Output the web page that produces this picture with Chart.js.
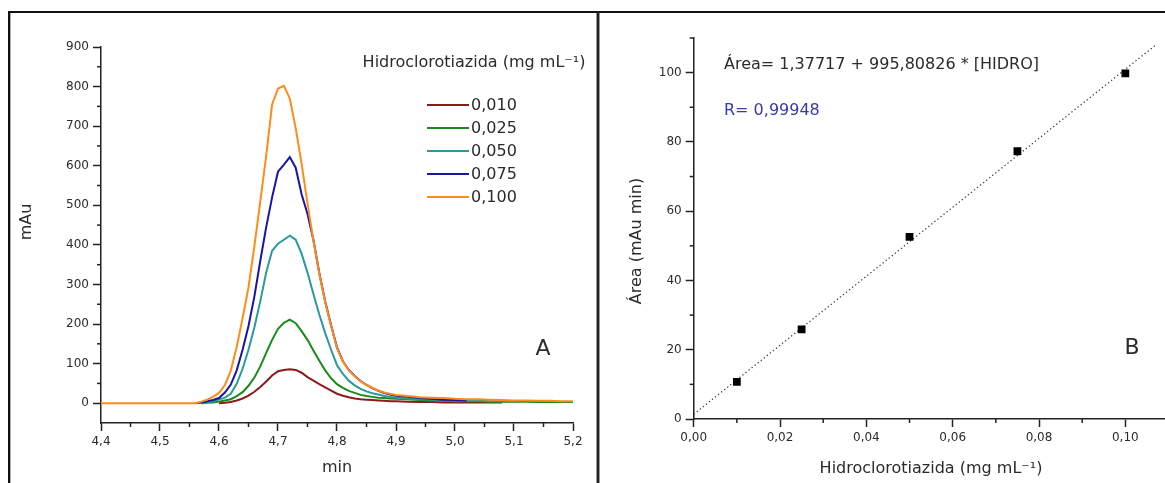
<!DOCTYPE html>
<html lang="pt-br">
<head>
<meta charset="UTF-8">
<title>Hidroclorotiazida - cromatograma e curva</title>
<script src="https://cdn.jsdelivr.net/npm/chart.js"></script>
<style>
    body { margin: 0; background: #fff; width: 1165px; height: 483px; overflow: hidden; position: relative; }
    canvas { position: absolute; top: 0; }
    #grafico_a { left: 0; }
    #grafico_b { left: 600px; }
    .linha { position: absolute; }
</style>
</head>
<body>

<canvas id="grafico_a" width="597" height="483"></canvas>
<canvas id="grafico_b" width="600" height="483"></canvas>

<!-- moldura -->
<div class="linha" style="left:8px;top:11px;width:1157px;height:2px;background:#111"></div>
<div class="linha" style="left:8px;top:11px;width:2px;height:472px;background:#111"></div>
<div class="linha" style="left:10px;top:13px;width:1px;height:470px;background:#aaa"></div>
<div class="linha" style="left:596px;top:13px;width:1px;height:470px;background:#999"></div>
<div class="linha" style="left:597px;top:11px;width:2px;height:472px;background:#222"></div>
<div class="linha" style="left:599px;top:13px;width:1px;height:470px;background:#999"></div>

<script>
    // ---- A: cromatogramas ----
    var tempos = [4.40, 4.56, 4.57, 4.58, 4.59, 4.60, 4.61, 4.62, 4.63, 4.64, 4.65, 4.66, 4.67, 4.68, 4.69,
        4.70, 4.71, 4.72, 4.73, 4.74, 4.75, 4.76, 4.77, 4.78, 4.79, 4.80, 4.81, 4.82, 4.83, 4.84, 4.85,
        4.86, 4.87, 4.88, 4.89, 4.90, 4.92, 4.94, 4.96, 4.98, 5.00, 5.02, 5.04, 5.06, 5.08, 5.10, 5.12,
        5.14, 5.16, 5.18, 5.20];

    var serie010 = [null, null, null, null, null, 0, 1, 3, 7, 12, 19, 29, 41, 55, 70,
        81, 84, 86, 84, 77, 66, 57, 48, 40, 32, 24, 19, 15, 12, 10, 9,
        8, 7, 6, 5, 5, 4, 3, 3, 2, 2, 2, 2, 2, 2, null, null,
        null, null, null, null];
    var serie025 = [null, null, 0, 1, 2, 4, 7, 10, 18, 28, 44, 65, 93, 127, 160,
        188, 203, 211, 202, 182, 160, 133, 107, 83, 63, 48, 39, 31, 26, 21, 18,
        16, 14, 13, 12, 11, 10, 8, 7, 6, 5, 5, 5, 4, 4, 4, 4,
        3, 3, 3, 3];
    var serie050 = [null, null, 0, 2, 5, 9, 14, 24, 49, 87, 135, 192, 258, 330, 385,
        403, 413, 423, 413, 378, 330, 276, 224, 177, 135, 96, 74, 57, 45, 36, 30,
        25, 22, 18, 16, 14, 12, 10, 9, 8, 7, 6, 6, 5, 5, 5, null,
        null, null, null, null];
    var serie075 = [null, 0, 2, 5, 8, 13, 27, 47, 83, 135, 195, 270, 360, 445, 520,
        585, 603, 622, 595, 528, 478, 413, 329, 257, 197, 141, 106, 84, 69, 56, 46,
        38, 31, 26, 22, 19, 16, 13, 11, 9, 8, 7, null, null, null, null, null,
        null, null, null, null];
    var serie100 = [0, 0, 4, 9, 16, 26, 46, 82, 142, 215, 293, 397, 510, 625, 755,
        795, 802, 770, 695, 605, 505, 411, 327, 255, 195, 139, 105, 83, 68, 55, 46,
        39, 32, 27, 24, 21, 18, 15, 14, 13, 11, 10, 10, 9, 8, 7, 7,
        6, 6, 5, 5];

    var rotulos = ["0,010", "0,025", "0,050", "0,075", "0,100"];
    var cores = ["#8b1a1a", "#1a8a1a", "#2a9a9a", "#1616a4", "#ff8c1a"];

    var ticksXA = [4.4, 4.5, 4.6, 4.7, 4.8, 4.9, 5.0, 5.1, 5.2];
    var ticksYA = [0, 100, 200, 300, 400, 500, 600, 700, 800, 900];
    var menoresXA = [4.45, 4.55, 4.65, 4.75, 4.85, 4.95, 5.05, 5.15];
    var menoresYA = [50, 150, 250, 350, 450, 550, 650, 750, 850];

    // ---- B: curva analítica ----
    var concentracoes = [0.010, 0.025, 0.050, 0.075, 0.100];
    var areas = [10.7, 25.9, 52.6, 77.3, 99.8];
    var ajusteX = [0, 0.107];
    var ajusteY = [1.38, 107.93];

    var ticksXB = [0, 0.02, 0.04, 0.06, 0.08, 0.10];
    var ticksYB = [0, 20, 40, 60, 80, 100];
    var menoresXB = [0.01, 0.03, 0.05, 0.07, 0.09, 0.11];
    var menoresYB = [10, 30, 50, 70, 90, 110];

    Chart.defaults.font.family = "'DejaVu Sans', sans-serif";
    Chart.defaults.color = "#2b2b2b";

    var corEixo = "#222";
    var corTexto = "#2b2b2b";

    function pares(xs, ys) {
        return xs.map(function (x, i) { return { x: x, y: ys[i] }; });
    }

    function virgula(casas) {
        return function (v) { return casas ? v.toFixed(casas).replace(".", ",") : String(v); };
    }

    function eixo(min, max, ticks, casas, tamanho, horizontal) {
        return {
            type: "linear",
            min: min,
            max: max,
            afterBuildTicks: function (s) {
                s.ticks = ticks.map(function (v) { return { value: v }; });
            },
            afterFit: function (s) {
                if (horizontal) s.height = tamanho; else s.width = tamanho;
            },
            grid: { drawOnChartArea: false, tickLength: 8, tickColor: corEixo, tickWidth: 1.5 },
            border: { color: corEixo, width: 1.5 },
            ticks: {
                font: { size: 12 },
                color: corTexto,
                padding: 4,
                autoSkip: false,
                maxRotation: 0,
                callback: virgula(casas)
            }
        };
    }

    // desenha ticks menores, textos e legenda
    var pluginExtras = {
        id: "extras",
        afterDraw: function (chart, args, opts) {
            var ctx = chart.ctx;
            var sx = chart.scales.x, sy = chart.scales.y;
            ctx.save();
            ctx.strokeStyle = corEixo;
            ctx.lineWidth = 1.5;
            (opts.menoresX || []).forEach(function (v) {
                var px = sx.getPixelForValue(v);
                ctx.beginPath(); ctx.moveTo(px, sx.top); ctx.lineTo(px, sx.top + 4); ctx.stroke();
            });
            (opts.menoresY || []).forEach(function (v) {
                var py = sy.getPixelForValue(v);
                ctx.beginPath(); ctx.moveTo(sy.right, py); ctx.lineTo(sy.right - 4, py); ctx.stroke();
            });

            ctx.textBaseline = "middle";
            (opts.textos || []).forEach(function (t) {
                ctx.save();
                ctx.font = t.tam + "px 'DejaVu Sans', sans-serif";
                ctx.fillStyle = t.cor || corTexto;
                ctx.textAlign = t.alinha || "center";
                ctx.translate(t.x, t.y);
                if (t.rot) ctx.rotate(-Math.PI / 2);
                ctx.fillText(t.texto, 0, 0);
                ctx.restore();
            });

            if (opts.legenda) {
                ctx.font = "16px 'DejaVu Sans', sans-serif";
                ctx.textAlign = "left";
                chart.data.datasets.forEach(function (ds, i) {
                    var y = 105 + i * 23;
                    ctx.strokeStyle = ds.borderColor;
                    ctx.lineWidth = 2;
                    ctx.beginPath(); ctx.moveTo(427, y); ctx.lineTo(469, y); ctx.stroke();
                    ctx.fillStyle = corTexto;
                    ctx.fillText(ds.label, 471, y + 1);
                });
            }
            ctx.restore();
        }
    };

    var series = [serie010, serie025, serie050, serie075, serie100];

    new Chart(document.getElementById("grafico_a"), {
        type: "line",
        data: {
            datasets: series.map(function (s, i) {
                return {
                    label: rotulos[i],
                    data: pares(tempos, s),
                    borderColor: cores[i],
                    borderWidth: 2,
                    pointRadius: 0,
                    tension: 0,
                    spanGaps: false,
                    fill: false,
                    order: 4 - i  // laranja por cima
                };
            })
        },
        options: {
            responsive: false,
            animation: false,
            events: [],
            layout: { padding: { left: 0, right: 24, top: 47, bottom: 0 } },
            scales: {
                x: eixo(4.4, 5.2, ticksXA, 1, 60, true),
                y: eixo(-50, 900, ticksYA, 0, 101, false)
            },
            plugins: {
                legend: { display: false },
                tooltip: { enabled: false },
                extras: {
                    menoresX: menoresXA,
                    menoresY: menoresYA,
                    legenda: true,
                    textos: [
                        { texto: "Hidroclorotiazida (mg mL\u207B\u00B9)", x: 474, y: 63, tam: 16 },
                        { texto: "A", x: 543, y: 349, tam: 22 },
                        { texto: "mAu", x: 27, y: 222, tam: 16, rot: true },
                        { texto: "min", x: 337, y: 468, tam: 16 }
                    ]
                }
            }
        },
        plugins: [pluginExtras]
    });

    new Chart(document.getElementById("grafico_b"), {
        type: "scatter",
        data: {
            datasets: [
                {
                    label: "Área",
                    data: pares(concentracoes, areas),
                    pointStyle: "rect",
                    pointRadius: 5.5,
                    backgroundColor: "#000",
                    borderColor: "#000",
                    borderWidth: 0
                },
                {
                    type: "line",
                    label: "Ajuste",
                    data: pares(ajusteX, ajusteY),
                    borderColor: "#333",
                    borderWidth: 1.2,
                    borderDash: [1.3, 2.6],
                    pointRadius: 0,
                    fill: false
                }
            ]
        },
        options: {
            responsive: false,
            animation: false,
            events: [],
            layout: { padding: { left: 0, right: 31.5, top: 38, bottom: 0 } },
            scales: {
                x: eixo(0, 0.11, ticksXB, 2, 64, true),
                y: eixo(0, 110, ticksYB, 0, 93.7, false)
            },
            plugins: {
                legend: { display: false },
                tooltip: { enabled: false },
                extras: {
                    menoresX: menoresXB,
                    menoresY: menoresYB,
                    textos: [
                        { texto: "Área= 1,37717 + 995,80826 * [HIDRO]", x: 124, y: 65, tam: 16, alinha: "left" },
                        { texto: "R= 0,99948", x: 124, y: 111, tam: 16, alinha: "left", cor: "#3a3aa6" },
                        { texto: "B", x: 532, y: 348, tam: 22 },
                        { texto: "Área (mAu min)", x: 37, y: 241, tam: 16, rot: true },
                        { texto: "Hidroclorotiazida (mg mL\u207B\u00B9)", x: 331, y: 469, tam: 16 }
                    ]
                }
            }
        },
        plugins: [pluginExtras]
    });
</script>
</body>
</html>
